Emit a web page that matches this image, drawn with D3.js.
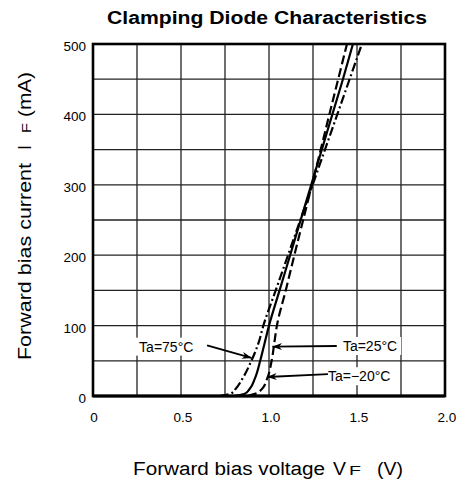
<!DOCTYPE html>
<html>
<head>
<meta charset="utf-8">
<script src="https://cdn.jsdelivr.net/npm/d3@7"></script>
<style>
  body { margin: 0; background: #fff; }
  svg text { font-family: "Liberation Sans", Arial, sans-serif; fill: #000; }
</style>
</head>
<body>
<svg width="461" height="487"></svg>
<script>
// forward current levels (mA) shared by the three curves
var currents = [0, 3, 10, 25, 50, 75, 100, 150, 200, 250, 300, 350, 400, 450, 500];
// forward voltage (V) read at those currents
var vf25 = [0.80, 0.86, 0.89, 0.92, 0.95, 0.975, 1.0, 1.06, 1.12, 1.18, 1.24, 1.30, 1.36, 1.42, 1.477];
var vfMinus20 = [0.88, 0.92, 0.96, 0.99, 1.015, 1.03, 1.045, 1.095, 1.144, 1.194, 1.244, 1.294, 1.343, 1.393, 1.443];
var vf75 = [0.72, 0.78, 0.81, 0.85, 0.90, 0.94, 0.968, 1.038, 1.108, 1.178, 1.248, 1.318, 1.388, 1.458, 1.528];

var xTicks = [0, 0.5, 1.0, 1.5, 2.0];
var yTicks = [0, 100, 200, 300, 400, 500];

var svg = d3.select("svg");
var margin = { left: 93, top: 44 };
var width = 352, height = 352;

var x = d3.scaleLinear().domain([0, 2]).range([0, width]);
var y = d3.scaleLinear().domain([0, 500]).range([height, 0]);

var g = svg.append("g").attr("transform", "translate(" + margin.left + "," + margin.top + ")");

// title
svg.append("text")
    .attr("x", 267).attr("y", 24)
    .attr("text-anchor", "middle")
    .attr("font-weight", "bold")
    .attr("font-size", 18)
    .attr("textLength", 320).attr("lengthAdjust", "spacingAndGlyphs")
    .text("Clamping Diode Characteristics");

// grid
g.selectAll(".vgrid").data(d3.range(1, 8).map(function(i) { return i * 0.25; }))
  .enter().append("line")
    .attr("x1", function(d) { return x(d); }).attr("x2", function(d) { return x(d); })
    .attr("y1", 0).attr("y2", height)
    .attr("stroke", "#222").attr("stroke-width", 1.3);

g.selectAll(".hgrid").data(d3.range(1, 10).map(function(i) { return i * 50; }))
  .enter().append("line")
    .attr("y1", function(d) { return y(d); }).attr("y2", function(d) { return y(d); })
    .attr("x1", 0).attr("x2", width)
    .attr("stroke", "#222").attr("stroke-width", 1.3);

// frame
g.append("rect")
    .attr("width", width).attr("height", height)
    .attr("fill", "none").attr("stroke", "#000").attr("stroke-width", 2.6);
g.append("line")
    .attr("x1", 0).attr("x2", width).attr("y1", height).attr("y2", height)
    .attr("stroke", "#000").attr("stroke-width", 3.2);

// tick labels
g.selectAll(".ytl").data(yTicks).enter().append("text")
    .attr("x", -7).attr("y", function(d) { return y(d) + 7; })
    .attr("text-anchor", "end").attr("font-size", 13.5)
    .text(function(d) { return d; });

g.selectAll(".xtl").data(xTicks).enter().append("text")
    .attr("x", function(d) { return x(d) + (d == 0 ? 1 : 2); })
    .attr("y", height + 26)
    .attr("text-anchor", "middle").attr("font-size", 13.5)
    .text(function(d) { return d == 0 ? "0" : d.toFixed(1); });

// axis titles, built piece by piece: [text, offset, length, font size]
function axisTitle(parent, pieces) {
  pieces.forEach(function(p) {
    parent.append("text")
        .attr("x", p[1]).attr("y", 0)
        .attr("font-size", p[3])
        .attr("textLength", p[2]).attr("lengthAdjust", "spacingAndGlyphs")
        .text(p[0]);
  });
}

axisTitle(svg.append("g").attr("transform", "translate(133,475)"), [
  ["Forward bias voltage", 0, 192, 18],
  ["V", 200, 13, 18],
  ["F", 216, 12, 12.5],
  ["(V)", 244, 26, 18]
]);

axisTitle(svg.append("g").attr("transform", "translate(31,360) rotate(-90)"), [
  ["Forward bias current", 0, 197, 18],
  ["I", 210, 5, 18],
  ["F", 227, 10, 12.5],
  ["(mA)", 243, 45, 18]
]);

// curves
var series = [
  { name: "25", v: vf25, dash: null },
  { name: "-20", v: vfMinus20, dash: "9,4" },
  { name: "75", v: vf75, dash: "9,3,2,3" }
];

var line = d3.line()
    .x(function(d) { return x(d[0]); })
    .y(function(d) { return y(d[1]); })
    .curve(d3.curveMonotoneY);

var defs = svg.append("defs");
defs.append("clipPath").attr("id", "plotclip")
  .append("rect").attr("x", 0).attr("y", 0).attr("width", width).attr("height", height);

g.selectAll(".curve").data(series).enter().append("path")
    .attr("clip-path", "url(#plotclip)")
    .attr("d", function(s) { return line(s.v.map(function(v, i) { return [v, currents[i]]; })); })
    .attr("fill", "none").attr("stroke", "#000").attr("stroke-width", 2.2)
    .attr("stroke-dasharray", function(s) { return s.dash; });

// annotations: label, text anchor (V, mA), arrow start and end (V, mA)
var notes = [
  { label: "Ta=75\u00B0C", tx: 0.262, ty: 63, ax1: 0.648, ay1: 72, ax2: 0.900, ay2: 54 },
  { label: "Ta=25\u00B0C", tx: 1.42, ty: 64, ax1: 1.385, ay1: 71, ax2: 1.02, ay2: 70 },
  { label: "Ta=\u221220\u00B0C", tx: 1.335, ty: 21, ax1: 1.335, ay1: 31, ax2: 0.99, ay2: 27 }
];

defs.append("marker")
    .attr("id", "arrow").attr("viewBox", "0 0 10 10")
    .attr("refX", 9.5).attr("refY", 5)
    .attr("markerWidth", 10).attr("markerHeight", 10)
    .attr("markerUnits", "userSpaceOnUse")
    .attr("orient", "auto")
  .append("path")
    .attr("d", "M0,1.5 L10,5 L0,8.5 L3,5 Z")
    .attr("fill", "#000");

notes.forEach(function(n) {
  var t = g.append("text")
      .attr("x", x(n.tx)).attr("y", y(n.ty))
      .attr("font-size", 14)
      .text(n.label);
  var bb = t.node().getBBox();
  g.insert("rect", function() { return t.node(); })
      .attr("x", bb.x - 4).attr("y", bb.y - 1)
      .attr("width", bb.width + 8).attr("height", bb.height + 2)
      .attr("fill", "#fff");
  g.append("line")
      .attr("x1", x(n.ax1)).attr("y1", y(n.ay1))
      .attr("x2", x(n.ax2)).attr("y2", y(n.ay2))
      .attr("stroke", "#000").attr("stroke-width", 1.8)
      .attr("marker-end", "url(#arrow)");
});
</script>
</body>
</html>
